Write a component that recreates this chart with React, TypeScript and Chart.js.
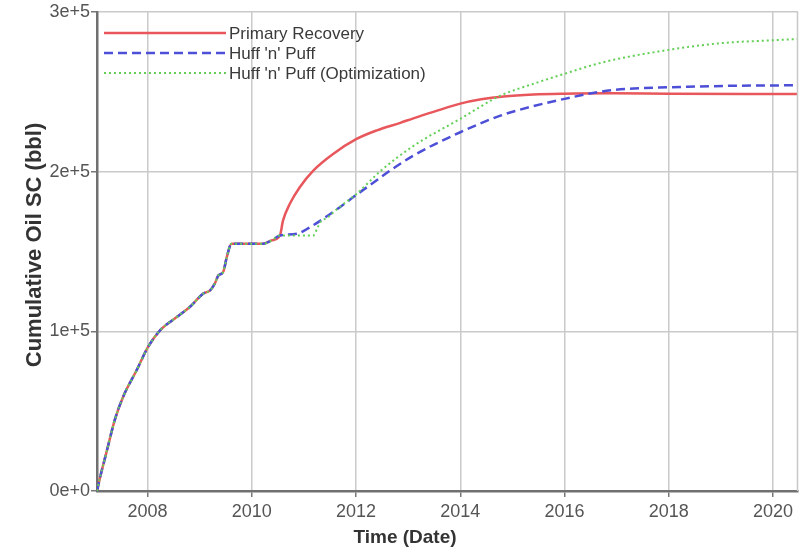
import React, { useEffect, useRef } from "react";
import { Chart, registerables } from "chart.js";

Chart.register(...registerables);

const seriesNames = ["Primary Recovery", "Huff 'n' Puff", "Huff 'n' Puff (Optimization)"];
const seriesColors = ["#e8575b", "#4d4fd6", "#62cf55"];

// shared history (all three runs coincide up to ~2010.5)
const commonYears = [2007.03, 2007.1, 2007.21, 2007.37, 2007.53, 2007.79, 2008.01, 2008.24, 2008.56, 2008.81, 2009.07, 2009.2, 2009.29, 2009.36, 2009.45, 2009.52, 2009.61, 2010.22, 2010.38, 2010.54];
const commonValues = [0, 10000, 24000, 44400, 58900, 75600, 90200, 100600, 108900, 115200, 123600, 125600, 129800, 135000, 137100, 146400, 154800, 154800, 156900, 160000];

const primaryYears = [2010.6, 2010.73, 2010.92, 2011.18, 2011.56, 2012.01, 2012.4, 2012.85, 2013.1, 2013.5, 2014.0, 2014.4, 2014.83, 2015.4, 2015.98, 2016.9, 2018.0, 2019.5, 2020.48];
const primaryValues = [169400, 179800, 190200, 200600, 211000, 220400, 225800, 230500, 233300, 237500, 242500, 245200, 247000, 248200, 248700, 249000, 248700, 248500, 248500];

const huffYears = [2010.86, 2011.12, 2011.37, 2011.69, 2012.01, 2012.33, 2012.65, 2013.1, 2014.0, 2014.77, 2015.41, 2016.0, 2016.69, 2017.33, 2017.97, 2019.25, 2020.48];
const huffValues = [161000, 165200, 170400, 177700, 185500, 193000, 200500, 210000, 224600, 235000, 241000, 245500, 250000, 252000, 252700, 253700, 254000];

const optYears = [2010.86, 2011.18, 2011.25, 2011.32, 2011.44, 2011.69, 2012.01, 2012.46, 2013.1, 2014.0, 2014.77, 2015.41, 2015.98, 2016.69, 2017.33, 2017.97, 2018.61, 2019.25, 2019.89, 2020.48];
const optValues = [160000, 160000, 164000, 168500, 171000, 178000, 186000, 200000, 216000, 233000, 247500, 255000, 261000, 268000, 272500, 276000, 279000, 281000, 282000, 283000];

const xTickYears = [2008, 2010, 2012, 2014, 2016, 2018, 2020];
const yTickValues = [0, 100000, 200000, 300000];
const yTickLabels = ["0e+0", "1e+5", "2e+5", "3e+5"];

const xTitle = "Time (Date)";
const yTitle = "Cumulative Oil SC (bbl)";

const toPoints = (xs: number[], ys: number[]) => xs.map((x, i) => ({ x, y: ys[i] }));

const FONT = "'Liberation Sans', Arial, sans-serif";

const decorPlugin = {
  id: "decor",
  afterDraw(chart: any) {
    const ctx = chart.ctx;
    const area = chart.chartArea;
    ctx.save();
    // right border
    ctx.strokeStyle = "#c8c8c8";
    ctx.lineWidth = 1.5;
    ctx.beginPath();
    ctx.moveTo(area.right - 0.5, area.top);
    ctx.lineTo(area.right - 0.5, area.bottom);
    ctx.stroke();

    // legend
    const dsets = chart.data.datasets;
    dsets.forEach((ds: any, i: number) => {
      const y = 33 + i * 20;
      ctx.strokeStyle = ds.borderColor;
      ctx.lineWidth = ds.borderWidth;
      ctx.setLineDash(ds.borderDash || []);
      ctx.beginPath();
      ctx.moveTo(area.left + 7, y);
      ctx.lineTo(area.left + 129, y);
      ctx.stroke();
      ctx.setLineDash([]);
      ctx.fillStyle = "#3a3a3a";
      ctx.font = `17px ${FONT}`;
      ctx.textAlign = "left";
      ctx.textBaseline = "middle";
      ctx.fillText(ds.label, area.left + 132, y + 1);
    });

    // axis titles
    ctx.fillStyle = "#333";
    ctx.font = `bold 19px ${FONT}`;
    ctx.textAlign = "center";
    ctx.textBaseline = "middle";
    ctx.fillText(xTitle, 405, 538);

    ctx.translate(35, 245);
    ctx.rotate(-Math.PI / 2);
    ctx.font = `bold 22px ${FONT}`;
    ctx.fillText(yTitle, 0, 0);
    ctx.restore();
  },
};

export default function App() {
  const ref = useRef<HTMLCanvasElement>(null);
  useEffect(() => {
    if (!ref.current) return;
    const chart = new Chart(ref.current, {
      type: "line",
      data: {
        datasets: [
          {
            label: seriesNames[0],
            data: toPoints([...commonYears, ...primaryYears], [...commonValues, ...primaryValues]),
            borderColor: seriesColors[0],
            borderWidth: 2.5,
            pointRadius: 0,
            cubicInterpolationMode: "monotone",
            order: 2,
          },
          {
            label: seriesNames[1],
            data: toPoints([...commonYears, ...huffYears], [...commonValues, ...huffValues]),
            borderColor: seriesColors[1],
            borderWidth: 2.5,
            borderDash: [9, 5],
            pointRadius: 0,
            cubicInterpolationMode: "monotone",
            order: 1,
          },
          {
            label: seriesNames[2],
            data: toPoints([...commonYears, ...optYears], [...commonValues, ...optValues]),
            borderColor: seriesColors[2],
            borderWidth: 2,
            borderDash: [2, 3],
            pointRadius: 0,
            cubicInterpolationMode: "monotone",
            order: 0,
          },
        ],
      },
      options: {
        animation: false,
        responsive: false,
        layout: { padding: { top: 11, right: 3, left: 0, bottom: 0 } },
        plugins: { legend: { display: false }, tooltip: { enabled: false } },
        scales: {
          x: {
            type: "linear",
            min: 2007.03,
            max: 2020.48,
            afterBuildTicks: (s: any) => {
              s.ticks = xTickYears.map((v) => ({ value: v }));
            },
            afterFit: (s: any) => {
              s.height = 61;
            },
            ticks: {
              color: "#555",
              font: { family: FONT, size: 18 },
              padding: 4,
              maxRotation: 0,
              callback: (v: any) => String(v),
            },
            grid: { color: "#cacaca", lineWidth: 1.5, tickColor: "#777", tickLength: 6 },
            border: { color: "#707070", width: 2.5 },
          },
          y: {
            type: "linear",
            min: 0,
            max: 300000,
            afterBuildTicks: (s: any) => {
              s.ticks = yTickValues.map((v) => ({ value: v }));
            },
            afterFit: (s: any) => {
              s.width = 97;
            },
            ticks: {
              color: "#555",
              font: { family: FONT, size: 18 },
              padding: 1,
              callback: (v: any) => {
                const i = yTickValues.indexOf(Number(v));
                return i >= 0 ? yTickLabels[i] : "";
              },
            },
            grid: { color: "#cacaca", lineWidth: 1.5, tickColor: "#777", tickLength: 6 },
            border: { color: "#707070", width: 2.5 },
          },
        },
      },
      plugins: [decorPlugin],
    } as any);
    return () => chart.destroy();
  }, []);
  return (
    <div style={{ position: "fixed", left: 0, top: 0, width: 801, height: 552, background: "#fff" }}>
      <canvas ref={ref} width={801} height={552} />
    </div>
  );
}
